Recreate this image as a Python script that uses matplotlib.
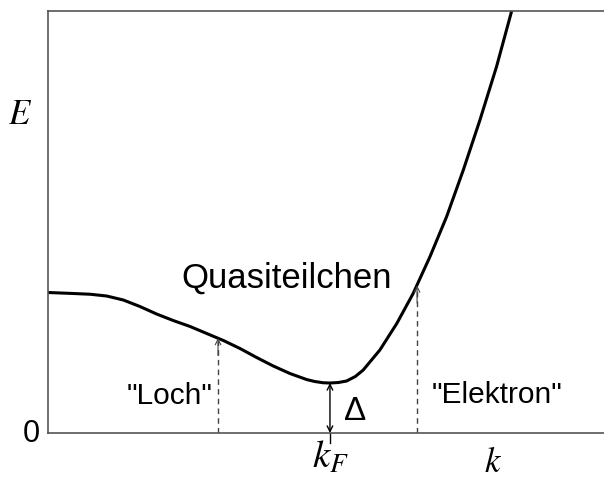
import matplotlib.pyplot as plt

plt.rcParams['font.family'] = ['Liberation Sans', 'DejaVu Sans']
plt.rcParams['mathtext.fontset'] = 'stix'

# dispersion of the quasiparticles, k in units of k_F, E in units of Delta
k = [0.0, 0.090, 0.150, 0.208, 0.267, 0.326, 0.385, 0.444, 0.504, 0.563,
     0.622, 0.681, 0.740, 0.799, 0.858, 0.917, 0.946, 0.976, 1.0, 1.030,
     1.059, 1.090, 1.118, 1.177, 1.237, 1.295, 1.355, 1.414, 1.473, 1.532,
     1.591, 1.644]
E = [2.81, 2.79, 2.775, 2.74, 2.66, 2.53, 2.38, 2.25, 2.13, 1.99,
     1.85, 1.69, 1.51, 1.34, 1.19, 1.07, 1.03, 1.005, 1.0, 1.01,
     1.04, 1.13, 1.26, 1.66, 2.19, 2.79, 3.53, 4.33, 5.26, 6.26,
     7.33, 8.43]

k_F = 1.0
delta = 1.0
k_hole, E_hole = 0.603, 1.90
k_elec, E_elec = 1.309, 2.95

fig = plt.figure(figsize=(6.04, 4.8), dpi=100)
ax = fig.add_axes([0.0795, 0.0979, 0.9205, 0.8792])

ax.plot(k, E, color='black', lw=2.2, solid_joinstyle='round')

# dashed markers for hole-like and electron-like branch
for kk, ee in [(k_hole, E_hole), (k_elec, E_elec)]:
    ax.plot([kk, kk], [0, ee - 0.05], ls=(0, (4, 3)), color='#444444', lw=1.0)
    ax.annotate('', xy=(kk, ee), xytext=(kk, ee - 0.35),
                arrowprops=dict(arrowstyle='->', color='#444444', lw=0.8,
                                shrinkA=0, shrinkB=0))

# gap arrow at k_F
ax.annotate('', xy=(k_F, delta), xytext=(k_F, 0),
            arrowprops=dict(arrowstyle='<->', color='black', lw=1.0,
                            shrinkA=0, shrinkB=0))
ax.plot([k_F, k_F], [0, -0.2], color='black', lw=1.0, clip_on=False)

ax.set_xlim(0, 1.972)
ax.set_ylim(0, 8.44)
ax.set_xticks([])
ax.set_yticks([])
ax.spines['right'].set_visible(False)
for s in ['left', 'top', 'bottom']:
    ax.spines[s].set_color('#555555')
    ax.spines[s].set_linewidth(1.2)

ax.text(0.848, 2.9, 'Quasiteilchen', fontsize=25, ha='center', va='baseline')
ax.text(0.585, 0.58, '"Loch"', fontsize=21.5, ha='right', va='baseline')
ax.text(1.362, 0.60, '"Elektron"', fontsize=21.5, ha='left', va='baseline')
ax.text(1.05, 0.26, 'Δ', fontsize=24, ha='left', va='baseline')

fig.text(20 / 604, 1 - 114 / 480, '$E$', fontsize=25, ha='center', va='center')
fig.text(31 / 604, 1 - 434 / 480, '0', fontsize=22, ha='center', va='center')
fig.text(330 / 604, 1 - 440 / 480, '$k_F$', fontsize=28, ha='center', va='top')
fig.text(493 / 604, 1 - 463 / 480, '$k$', fontsize=25, ha='center', va='center')

plt.savefig('out.png', dpi=100)
